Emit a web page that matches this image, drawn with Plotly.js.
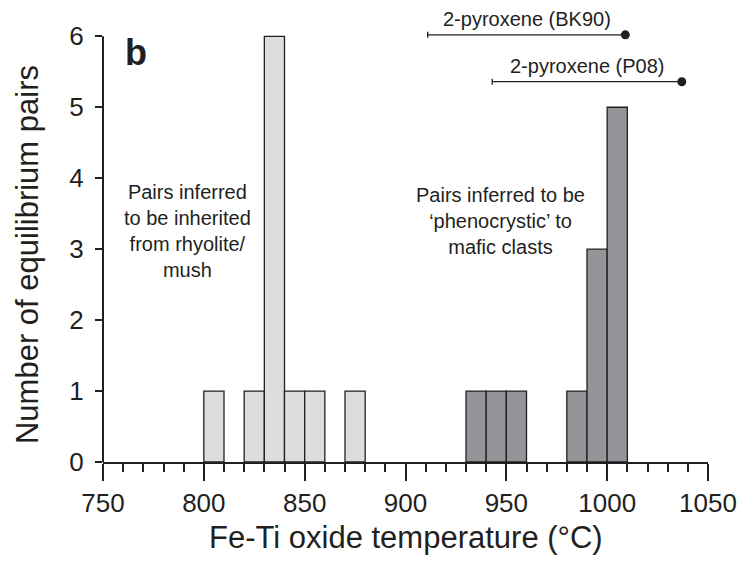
<!DOCTYPE html>
<html>
<head>
<meta charset="utf-8">
<script src="https://cdn.plot.ly/plotly-3.0.1.min.js"></script>
<style>body{margin:0;background:#fff}#chart{width:744px;height:564px}</style>
</head>
<body>
<div id="chart"></div>
<script>
// Histogram bins (left edge, °C) and counts
var lightBinStart = [800, 820, 830, 840, 850, 870];
var lightCounts   = [1, 1, 6, 1, 1, 1];
var darkBinStart  = [930, 940, 950, 980, 990, 1000];
var darkCounts    = [1, 1, 1, 1, 3, 5];
var binWidth = 10;

// Two-pyroxene temperatures (max) and lower bound of range
var pyxNames = ['2-pyroxene (BK90)', '2-pyroxene (P08)'];
var pyxTemp  = [1009, 1037];
var pyxLow   = [911, 943];
var pyxLevel = [6.02, 5.36];

var xTicks = [750, 800, 850, 900, 950, 1000, 1050];
var yTicks = [0, 1, 2, 3, 4, 5, 6];

var ink = '#231f20';
var font = 'Liberation Sans, Arial, Helvetica, sans-serif';

function centers(starts){ return starts.map(function(s){ return s + binWidth/2; }); }

var traces = [
  {type:'bar', x:centers(lightBinStart), y:lightCounts, width:binWidth,
   marker:{color:'#dcdddf', line:{color:ink, width:1.3}}, hoverinfo:'x+y'},
  {type:'bar', x:centers(darkBinStart), y:darkCounts, width:binWidth,
   marker:{color:'#939598', line:{color:ink, width:1.3}}, hoverinfo:'x+y'},
  {type:'scatter', mode:'markers', x:pyxTemp, y:pyxLevel, cliponaxis:false,
   marker:{color:ink, size:9},
   error_x:{type:'data', symmetric:false, array:[0,0],
            arrayminus:pyxTemp.map(function(t,i){return t - pyxLow[i];}),
            color:ink, thickness:1.3, width:3}}
];

var annotations = [
  {xref:'paper', yref:'paper', x:0.0545, y:0.917, text:'<b>b</b>', showarrow:false,
   font:{family:font, size:36, color:ink}, xanchor:'center', yanchor:'middle'},
  {x:792, y:3.25, text:'Pairs inferred<br>to be inherited<br>from rhyolite/<br>mush', showarrow:false,
   font:{family:font, size:20, color:ink}, align:'center', xanchor:'center', yanchor:'middle'},
  {x:947, y:3.39, text:'Pairs inferred to be<br>‘phenocrystic’ to<br>mafic clasts', showarrow:false,
   font:{family:font, size:20, color:ink}, align:'center', xanchor:'center', yanchor:'middle'},
  {xref:'paper', yref:'paper', x:-0.1256, y:0.463, text:'Number of equilibrium pairs', textangle:-90,
   showarrow:false, font:{family:font, size:31, color:ink}, xanchor:'center', yanchor:'middle'},
  {xref:'paper', yref:'paper', x:0.5, y:-0.1678, text:'Fe-Ti oxide temperature (°C)',
   showarrow:false, font:{family:font, size:31, color:ink}, xanchor:'center', yanchor:'middle'}
];
pyxNames.forEach(function(n,i){
  annotations.push({x:(pyxTemp[i]+pyxLow[i])/2, y:pyxLevel[i], text:n, showarrow:false,
    yshift:16, font:{family:font, size:20, color:ink}, xanchor:'center', yanchor:'middle'});
});

var layout = {
  width:744, height:564,
  margin:{l:103, r:36, t:15, b:102, pad:0},
  paper_bgcolor:'#fff', plot_bgcolor:'#fff',
  showlegend:false, barmode:'overlay', bargap:0,
  font:{family:font, color:ink},
  xaxis:{range:[750,1050], tickvals:xTicks, ticks:'outside', ticklen:17, tickwidth:2, tickcolor:ink,
         showline:true, linewidth:2, linecolor:ink, showgrid:false, zeroline:false,
         tickfont:{family:font, size:26, color:ink},
         minor:{dtick:10, tick0:750, ticks:'outside', ticklen:8, tickwidth:2, tickcolor:ink, showgrid:false}},
  yaxis:{range:[0,6.3], tickvals:yTicks, ticks:'outside', ticklen:7, tickwidth:2, tickcolor:ink,
         showline:false, showgrid:false, zeroline:false, ticklabelstandoff:6,
         tickfont:{family:font, size:26, color:ink}},
  shapes:[{type:'line', xref:'paper', yref:'y', x0:0, x1:0, y0:0, y1:6, line:{color:ink, width:2}}],
  annotations:annotations
};

Plotly.newPlot('chart', traces, layout, {displayModeBar:false, staticPlot:true});
</script>
</body>
</html>
